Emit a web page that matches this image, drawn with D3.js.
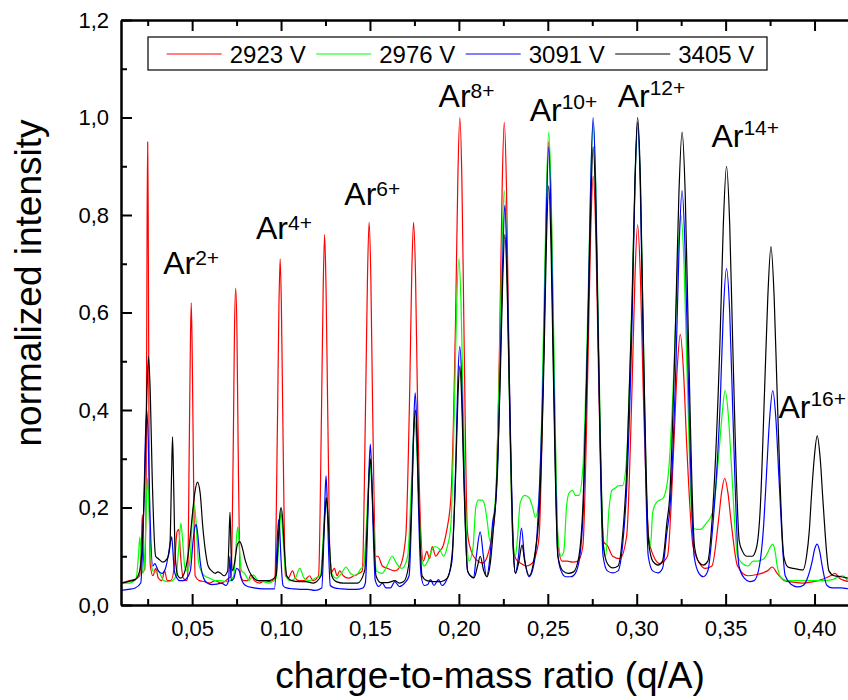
<!DOCTYPE html>
<html>
<head>
<meta charset="utf-8">
<script src="https://cdn.jsdelivr.net/npm/d3@7"></script>
<style>
  body { margin: 0; background: #fff; }
  svg { font-family: "Liberation Sans", Arial, sans-serif; }
</style>
</head>
<body>
<div id="chart"></div>
<script>
// spectra: [q/A, normalized intensity]
const red2923 = [
  [0.010,0.045],[0.015,0.05],[0.019,0.055],
  [0.0205,0.06],[0.0215,0.13],[0.022,0.185],[0.0226,0.1],
  [0.0235,0.07],[0.0242,0.3],[0.0247,0.8],[0.025,0.95],[0.0253,0.8],[0.0258,0.3],[0.0265,0.08],
  [0.028,0.06],[0.0295,0.075],[0.031,0.055],[0.033,0.05],[0.0345,0.07],[0.036,0.05],[0.038,0.05],
  [0.040,0.08],[0.0415,0.15],[0.0425,0.155],[0.0435,0.1],[0.045,0.055],[0.047,0.05],
  [0.0475,0.06],[0.0484,0.33],[0.049,0.53],[0.0495,0.62],[0.05,0.53],[0.0506,0.33],[0.0517,0.06],
  [0.054,0.05],[0.057,0.048],[0.06,0.045],[0.063,0.05],[0.066,0.045],[0.069,0.05],[0.0705,0.055],
  [0.0719,0.06],[0.0732,0.35],[0.0738,0.56],[0.0745,0.65],[0.0752,0.56],[0.0758,0.35],[0.0771,0.06],
  [0.079,0.05],[0.0815,0.05],[0.083,0.062],[0.085,0.05],[0.088,0.045],[0.091,0.05],[0.0935,0.048],[0.0965,0.055],
  [0.098,0.38],[0.0988,0.61],[0.0995,0.71],[0.1002,0.61],[0.101,0.38],[0.1025,0.06],
  [0.104,0.055],[0.1065,0.07],[0.108,0.055],[0.11,0.05],[0.113,0.05],[0.116,0.06],[0.118,0.05],[0.1211,0.06],
  [0.1228,0.41],[0.1237,0.65],[0.1245,0.76],[0.1253,0.65],[0.1262,0.41],[0.1279,0.065],
  [0.130,0.075],[0.1315,0.06],[0.133,0.07],[0.135,0.06],[0.138,0.055],[0.141,0.06],[0.144,0.065],[0.1457,0.07],
  [0.1476,0.43],[0.1486,0.67],[0.1495,0.785],[0.1505,0.67],[0.1514,0.43],[0.1533,0.1],
  [0.1545,0.1],[0.157,0.08],[0.160,0.075],[0.164,0.07],[0.167,0.08],[0.1695,0.12],[0.1703,0.15],
  [0.1724,0.45],[0.1735,0.68],[0.1745,0.785],[0.1756,0.68],[0.1766,0.45],[0.1787,0.14],
  [0.180,0.09],[0.182,0.11],[0.1835,0.095],[0.185,0.12],[0.187,0.1],[0.189,0.11],[0.191,0.12],[0.193,0.15],[0.1955,0.22],
  [0.1982,0.6],[0.1994,0.87],[0.2005,1.0],[0.2017,0.87],[0.2028,0.58],[0.2048,0.15],
  [0.207,0.11],[0.210,0.092],[0.2135,0.086],[0.216,0.1],[0.2185,0.14],[0.2205,0.2],
  [0.223,0.56],[0.2243,0.85],[0.2255,0.99],[0.2268,0.85],[0.228,0.55],[0.2305,0.12],
  [0.232,0.095],[0.235,0.085],[0.238,0.08],[0.241,0.085],[0.243,0.1],[0.2451,0.14],
  [0.2478,0.54],[0.2492,0.82],[0.2505,0.95],[0.2519,0.82],[0.2532,0.53],[0.2559,0.12],
  [0.258,0.09],[0.261,0.09],[0.264,0.088],[0.267,0.09],[0.2697,0.12],
  [0.2726,0.5],[0.2741,0.76],[0.2755,0.88],[0.277,0.76],[0.2784,0.5],[0.2813,0.13],
  [0.2835,0.122],[0.2865,0.1],[0.2905,0.095],[0.2943,0.14],
  [0.2974,0.45],[0.299,0.67],[0.3005,0.78],[0.3021,0.67],[0.3036,0.45],[0.3067,0.14],
  [0.3095,0.1],[0.313,0.085],[0.3173,0.1],
  [0.3209,0.33],[0.3227,0.48],[0.3245,0.555],[0.3263,0.48],[0.3281,0.33],[0.3317,0.12],
  [0.3355,0.085],[0.3385,0.075],[0.3423,0.08],
  [0.3459,0.17],[0.3477,0.23],[0.3495,0.26],[0.3513,0.23],[0.3531,0.17],[0.3567,0.08],
  [0.3625,0.06],[0.367,0.062],[0.371,0.066],[0.3735,0.07],[0.3762,0.078],[0.379,0.065],[0.383,0.05],
  [0.388,0.047],[0.393,0.045],[0.398,0.047],[0.402,0.05],[0.406,0.055],[0.409,0.06],[0.4115,0.065],
  [0.414,0.055],[0.417,0.05],[0.42,0.048],[0.425,0.047]
];

const green2976 = [
  [0.0105,0.045],[0.015,0.045],[0.0185,0.055],[0.0198,0.1],[0.0206,0.14],[0.0214,0.09],[0.0222,0.065],
  [0.0228,0.07],[0.0239,0.16],[0.0244,0.22],[0.025,0.26],[0.0255,0.22],[0.0261,0.16],[0.0272,0.08],
  [0.028,0.07],[0.0295,0.068],[0.031,0.07],[0.0325,0.06],[0.034,0.05],[0.0365,0.048],[0.039,0.05],
  [0.041,0.06],[0.0425,0.12],[0.0437,0.168],[0.0447,0.13],[0.046,0.075],[0.0475,0.07],[0.049,0.1],
  [0.0503,0.19],[0.0512,0.207],[0.0522,0.17],[0.0535,0.09],[0.055,0.07],[0.057,0.06],[0.06,0.055],
  [0.063,0.05],[0.066,0.05],[0.069,0.048],[0.0715,0.05],
  [0.0734,0.06],[0.0745,0.11],[0.075,0.14],[0.0756,0.16],[0.0762,0.14],[0.0767,0.11],[0.0778,0.07],
  [0.0795,0.065],[0.082,0.05],[0.0845,0.062],[0.087,0.05],[0.09,0.048],[0.093,0.045],[0.0972,0.055],
  [0.0986,0.12],[0.0993,0.16],[0.1,0.19],[0.1007,0.16],[0.1014,0.12],[0.1028,0.06],
  [0.105,0.05],[0.108,0.055],[0.1105,0.075],[0.113,0.055],[0.116,0.05],[0.119,0.055],[0.1221,0.06],
  [0.1237,0.14],[0.1245,0.19],[0.1253,0.22],[0.1261,0.19],[0.1269,0.14],[0.1285,0.065],
  [0.131,0.055],[0.134,0.065],[0.1365,0.078],[0.139,0.065],[0.142,0.06],[0.145,0.075],[0.1464,0.08],
  [0.1482,0.18],[0.1491,0.25],[0.15,0.29],[0.1509,0.25],[0.1518,0.18],[0.1536,0.07],
  [0.157,0.065],[0.1595,0.08],[0.1625,0.1],[0.165,0.085],[0.168,0.075],[0.1712,0.1],
  [0.1732,0.24],[0.1742,0.33],[0.1752,0.38],[0.1762,0.33],[0.1772,0.24],[0.1792,0.09],
  [0.1805,0.08],[0.1825,0.09],[0.1845,0.11],[0.1865,0.12],[0.189,0.115],[0.1915,0.1],[0.1935,0.12],[0.1954,0.16],
  [0.1977,0.44],[0.1988,0.62],[0.2,0.71],[0.2012,0.62],[0.2023,0.43],[0.2046,0.12],
  [0.2058,0.09],[0.208,0.12],[0.2095,0.2],[0.211,0.215],[0.213,0.215],[0.2145,0.205],[0.216,0.17],[0.2175,0.13],[0.2195,0.18],
  [0.2212,0.26],[0.223,0.52],[0.2243,0.74],[0.2255,0.85],[0.2268,0.74],[0.228,0.5],[0.2303,0.14],
  [0.2318,0.1],[0.233,0.14],[0.2345,0.21],[0.237,0.225],[0.2395,0.22],[0.2415,0.2],[0.243,0.18],[0.2451,0.22],
  [0.2478,0.6],[0.2492,0.84],[0.2505,0.97],[0.2519,0.84],[0.2532,0.58],[0.2557,0.14],
  [0.2575,0.1],[0.259,0.11],[0.2605,0.2],[0.262,0.23],[0.264,0.235],[0.2655,0.225],[0.2675,0.225],[0.2697,0.28],
  [0.2726,0.62],[0.2741,0.86],[0.2755,0.99],[0.277,0.86],[0.2784,0.58],[0.2812,0.13],
  [0.2825,0.1],[0.2845,0.2],[0.286,0.235],[0.288,0.24],[0.29,0.245],[0.292,0.245],[0.2943,0.3],
  [0.2974,0.64],[0.299,0.86],[0.3005,0.98],[0.3021,0.86],[0.3036,0.58],[0.3065,0.13],
  [0.3077,0.12],[0.309,0.19],[0.311,0.21],[0.313,0.215],[0.315,0.22],[0.3178,0.27],
  [0.3213,0.52],[0.323,0.7],[0.3248,0.8],[0.3266,0.7],[0.3283,0.48],[0.3315,0.16],
  [0.3335,0.155],[0.336,0.155],[0.3385,0.165],[0.3427,0.19],
  [0.3462,0.31],[0.348,0.39],[0.3497,0.44],[0.3515,0.39],[0.3532,0.29],[0.3567,0.1],
  [0.3595,0.085],[0.3625,0.08],[0.3655,0.09],[0.368,0.09],[0.3715,0.095],
  [0.374,0.11],[0.3752,0.12],[0.3765,0.125],[0.3778,0.11],[0.379,0.08],[0.3815,0.055],
  [0.385,0.05],[0.39,0.05],[0.395,0.05],[0.4,0.05],[0.405,0.05],[0.41,0.052],[0.4135,0.058],
  [0.416,0.06],[0.419,0.05],[0.425,0.048]
];

const blue3091 = [
  [0.010,0.03],[0.014,0.032],[0.018,0.035],[0.0211,0.045],
  [0.0228,0.2],[0.0237,0.34],[0.0245,0.4],[0.0253,0.34],[0.0262,0.2],[0.0279,0.08],
  [0.029,0.085],[0.031,0.07],[0.033,0.065],[0.035,0.075],[0.0365,0.1],[0.0378,0.13],[0.0385,0.14],
  [0.0392,0.11],[0.040,0.07],[0.0415,0.055],[0.043,0.05],[0.045,0.05],[0.047,0.055],[0.049,0.07],
  [0.0505,0.13],[0.0515,0.16],[0.0523,0.165],[0.053,0.15],[0.0545,0.09],[0.056,0.06],[0.0585,0.045],
  [0.061,0.042],[0.064,0.043],[0.0665,0.045],[0.069,0.04],[0.0705,0.05],[0.0712,0.1],[0.072,0.05],
  [0.0735,0.055],[0.075,0.075],[0.0765,0.07],[0.078,0.05],[0.08,0.04],[0.085,0.035],[0.09,0.033],[0.0963,0.033],
  [0.0975,0.1],[0.0981,0.15],[0.0987,0.175],[0.0993,0.15],[0.0999,0.1],[0.1011,0.04],
  [0.103,0.035],[0.107,0.033],[0.111,0.032],[0.115,0.032],[0.119,0.03],[0.1229,0.035],
  [0.1241,0.14],[0.1247,0.22],[0.1253,0.265],[0.1259,0.22],[0.1265,0.14],[0.1277,0.04],
  [0.13,0.035],[0.134,0.033],[0.138,0.032],[0.142,0.032],[0.146,0.035],[0.1474,0.045],
  [0.1488,0.18],[0.1495,0.28],[0.1502,0.33],[0.1509,0.28],[0.1516,0.18],[0.153,0.05],
  [0.155,0.038],[0.157,0.045],[0.159,0.035],[0.1615,0.035],[0.164,0.048],[0.1665,0.038],[0.1695,0.045],[0.172,0.06],
  [0.1737,0.23],[0.1746,0.37],[0.1754,0.435],[0.1763,0.37],[0.1771,0.23],[0.1788,0.06],
  [0.1805,0.04],[0.1825,0.042],[0.184,0.052],[0.186,0.04],[0.1885,0.052],[0.1905,0.04],[0.1935,0.055],[0.1961,0.09],
  [0.1983,0.3],[0.1994,0.46],[0.2005,0.53],[0.2016,0.46],[0.2027,0.29],[0.2049,0.07],
  [0.2065,0.06],[0.2082,0.055],[0.2098,0.1],[0.212,0.15],[0.2138,0.1],[0.2155,0.058],[0.2175,0.1],[0.219,0.17],[0.2205,0.2],
  [0.222,0.3],[0.2233,0.5],[0.2246,0.7],[0.2258,0.82],[0.2271,0.7],[0.2283,0.48],[0.2308,0.1],
  [0.2318,0.065],[0.2335,0.1],[0.2352,0.158],[0.2368,0.1],[0.2395,0.058],[0.2425,0.09],[0.2445,0.18],
  [0.2479,0.55],[0.2492,0.8],[0.2505,0.94],[0.2518,0.8],[0.2531,0.52],[0.2557,0.1],
  [0.2575,0.07],[0.26,0.058],[0.263,0.058],[0.2655,0.065],[0.268,0.1],[0.27,0.2],
  [0.2727,0.6],[0.2741,0.86],[0.2755,1.0],[0.2769,0.86],[0.2783,0.56],[0.2811,0.1],
  [0.2835,0.07],[0.2865,0.066],[0.2895,0.07],[0.292,0.12],[0.2945,0.25],
  [0.2975,0.6],[0.299,0.86],[0.3005,0.99],[0.302,0.86],[0.3035,0.56],[0.3065,0.1],
  [0.309,0.07],[0.312,0.066],[0.3145,0.075],[0.317,0.15],[0.3187,0.2],
  [0.3221,0.5],[0.3238,0.73],[0.3255,0.85],[0.3272,0.73],[0.3289,0.48],[0.3323,0.1],
  [0.335,0.065],[0.3375,0.058],[0.34,0.07],[0.3425,0.15],
  [0.347,0.42],[0.3487,0.6],[0.3505,0.69],[0.3523,0.6],[0.354,0.4],[0.3575,0.08],
  [0.3605,0.055],[0.3635,0.048],[0.366,0.05],[0.369,0.08],[0.3715,0.17],
  [0.373,0.27],[0.3747,0.38],[0.3765,0.44],[0.3783,0.38],[0.38,0.26],[0.3835,0.06],
  [0.387,0.042],[0.3905,0.037],[0.3935,0.04],[0.396,0.055],
  [0.3987,0.09],[0.4001,0.115],[0.4015,0.125],[0.4029,0.11],[0.4043,0.08],[0.407,0.04],
  [0.41,0.035],[0.415,0.035],[0.42,0.033],[0.425,0.033]
];

const black3405 = [
  [0.010,0.045],[0.014,0.048],[0.018,0.052],[0.0205,0.07],
  [0.0215,0.1],[0.0235,0.28],[0.0245,0.43],[0.0255,0.51],[0.0265,0.43],[0.0275,0.27],[0.0295,0.1],
  [0.031,0.095],[0.0335,0.088],[0.036,0.095],[0.0375,0.12],[0.0385,0.28],[0.039,0.345],[0.0396,0.25],
  [0.0405,0.1],[0.042,0.06],[0.0435,0.055],[0.046,0.07],[0.048,0.11],[0.05,0.18],[0.0515,0.23],
  [0.053,0.252],[0.0545,0.23],[0.056,0.16],[0.0575,0.11],[0.059,0.08],[0.061,0.07],[0.063,0.065],
  [0.0645,0.068],[0.066,0.065],[0.068,0.06],[0.07,0.07],[0.0706,0.12],[0.0713,0.19],[0.072,0.1],
  [0.0728,0.07],[0.074,0.09],[0.0755,0.125],[0.0768,0.13],[0.078,0.12],[0.08,0.09],[0.082,0.07],
  [0.084,0.058],[0.087,0.05],[0.09,0.05],[0.093,0.05],[0.0972,0.06],
  [0.0984,0.13],[0.0992,0.18],[0.1,0.2],[0.1008,0.18],[0.1016,0.13],[0.1032,0.06],
  [0.106,0.05],[0.11,0.048],[0.114,0.048],[0.118,0.045],[0.1225,0.06],
  [0.124,0.14],[0.1248,0.19],[0.1255,0.22],[0.1263,0.19],[0.127,0.14],[0.1285,0.06],
  [0.131,0.048],[0.135,0.045],[0.139,0.045],[0.143,0.045],[0.147,0.07],
  [0.1486,0.18],[0.1494,0.26],[0.1502,0.3],[0.151,0.26],[0.1518,0.18],[0.1534,0.06],
  [0.156,0.046],[0.16,0.046],[0.164,0.05],[0.1665,0.045],[0.169,0.048],[0.1717,0.08],
  [0.1736,0.23],[0.1745,0.34],[0.1755,0.4],[0.1765,0.34],[0.1774,0.22],[0.1793,0.06],
  [0.182,0.05],[0.186,0.048],[0.19,0.048],[0.1935,0.055],[0.1961,0.1],
  [0.1983,0.28],[0.1994,0.42],[0.2005,0.49],[0.2016,0.42],[0.2027,0.27],[0.2049,0.07],
  [0.2065,0.06],[0.2085,0.056],[0.2105,0.08],[0.212,0.1],[0.214,0.07],[0.2158,0.058],[0.2178,0.09],[0.2195,0.16],[0.2208,0.22],
  [0.2233,0.47],[0.2246,0.66],[0.2258,0.76],[0.2271,0.66],[0.2283,0.45],[0.2308,0.1],
  [0.2318,0.065],[0.2338,0.09],[0.2355,0.123],[0.237,0.09],[0.2395,0.06],[0.2425,0.1],[0.2453,0.2],
  [0.2479,0.51],[0.2492,0.74],[0.2505,0.86],[0.2518,0.74],[0.2531,0.48],[0.2557,0.1],
  [0.2585,0.07],[0.2615,0.065],[0.2645,0.068],[0.2675,0.1],[0.2697,0.2],
  [0.2726,0.57],[0.2741,0.81],[0.2755,0.94],[0.277,0.81],[0.2784,0.54],[0.2813,0.12],
  [0.2835,0.085],[0.2865,0.076],[0.2895,0.08],[0.292,0.14],[0.2943,0.27],
  [0.2974,0.62],[0.299,0.87],[0.3005,1.0],[0.3021,0.87],[0.3036,0.57],[0.3067,0.13],
  [0.309,0.09],[0.312,0.082],[0.3145,0.09],[0.317,0.17],[0.3185,0.22],
  [0.322,0.6],[0.3237,0.84],[0.3255,0.97],[0.3273,0.84],[0.329,0.56],[0.3325,0.12],
  [0.335,0.088],[0.3375,0.082],[0.34,0.09],[0.3425,0.18],
  [0.3469,0.55],[0.3487,0.78],[0.3505,0.9],[0.3523,0.78],[0.3541,0.52],[0.3577,0.13],
  [0.3595,0.11],[0.362,0.1],[0.365,0.1],[0.3675,0.12],[0.3695,0.2],
  [0.3719,0.44],[0.3737,0.63],[0.3755,0.735],[0.3773,0.63],[0.3791,0.42],[0.3827,0.1],
  [0.385,0.078],[0.388,0.075],[0.391,0.073],[0.3935,0.072],[0.3955,0.1],[0.397,0.15],
  [0.3982,0.22],[0.3998,0.3],[0.4015,0.347],[0.4032,0.3],[0.4048,0.21],[0.4081,0.07],
  [0.411,0.06],[0.415,0.058],[0.42,0.055],[0.425,0.055]
];

const seriesNames = ["2923 V", "2976 V", "3091 V", "3405 V"];
const seriesColors = ["#ff0000", "#00ff00", "#0000ff", "#000000"];
const seriesData = [red2923, green2976, blue3091, black3405];

const xMajor = [0.05, 0.10, 0.15, 0.20, 0.25, 0.30, 0.35, 0.40];
const xMinor = [0.025, 0.075, 0.125, 0.175, 0.225, 0.275, 0.325, 0.375, 0.425];
const yMajor = [0.0, 0.2, 0.4, 0.6, 0.8, 1.0, 1.2];
const yMinor = [0.1, 0.3, 0.5, 0.7, 0.9, 1.1];

// ion labels: charge state, q/A where the label starts, intensity of its baseline
const ionLabels = [
  { charge: "2+", q: 0.0337, y: 0.68 },
  { charge: "4+", q: 0.0859, y: 0.75 },
  { charge: "6+", q: 0.1356, y: 0.82 },
  { charge: "8+", q: 0.1886, y: 1.022 },
  { charge: "10+", q: 0.2398, y: 0.992 },
  { charge: "12+", q: 0.2893, y: 1.022 },
  { charge: "14+", q: 0.342, y: 0.94 },
  { charge: "16+", q: 0.3797, y: 0.383 }
];

const width = 848, height = 700;
const margin = { top: 20, left: 121 };
const plotRight = 859, plotBottom = 605;

const svg = d3.select("#chart").append("svg")
  .attr("width", width)
  .attr("height", height);

const xScale = d3.scaleLinear().domain([0.01, 0.425]).range([margin.left, plotRight]);
const yScale = d3.scaleLinear().domain([0, 1.2]).range([plotBottom, margin.top]);

const comma = d => d3.format(".2f")(d).replace(".", ",");
const commaY = d => d3.format(".1f")(d).replace(".", ",");

svg.append("clipPath").attr("id", "plotClip")
  .append("rect")
  .attr("x", margin.left).attr("y", margin.top)
  .attr("width", plotRight - margin.left).attr("height", plotBottom - margin.top);

// spectra
const line = d3.line()
  .x(d => xScale(d[0]))
  .y(d => yScale(d[1]))
  .curve(d3.curveMonotoneX);

svg.append("g").attr("clip-path", "url(#plotClip)")
  .selectAll("path")
  .data(seriesData)
  .join("path")
  .attr("fill", "none")
  .attr("stroke", (d, i) => seriesColors[i])
  .attr("stroke-width", 1.2)
  .attr("stroke-linejoin", "round")
  .attr("d", line);

// axes
const styleAxis = g => {
  g.selectAll("path.domain").attr("stroke-width", 2);
  g.selectAll(".tick line").attr("stroke-width", 2);
  g.selectAll(".tick text").attr("font-size", "22px").attr("fill", "#000");
};

svg.append("g")
  .attr("transform", `translate(0,${plotBottom})`)
  .call(d3.axisBottom(xScale).tickValues(xMajor).tickFormat(comma).tickSize(-11).tickSizeOuter(0).tickPadding(15))
  .call(styleAxis);
svg.append("g")
  .attr("transform", `translate(0,${plotBottom})`)
  .call(d3.axisBottom(xScale).tickValues(xMinor).tickFormat("").tickSize(-6).tickSizeOuter(0))
  .call(styleAxis);

svg.append("g")
  .attr("transform", `translate(0,${margin.top})`)
  .call(d3.axisTop(xScale).tickValues(xMajor).tickFormat("").tickSize(-11).tickSizeOuter(0))
  .call(styleAxis);
svg.append("g")
  .attr("transform", `translate(0,${margin.top})`)
  .call(d3.axisTop(xScale).tickValues(xMinor).tickFormat("").tickSize(-6).tickSizeOuter(0))
  .call(styleAxis);

svg.append("g")
  .attr("transform", `translate(${margin.left},0)`)
  .call(d3.axisLeft(yScale).tickValues(yMajor).tickFormat(commaY).tickSize(-11).tickSizeOuter(0).tickPadding(12))
  .call(styleAxis);
svg.append("g")
  .attr("transform", `translate(${margin.left},0)`)
  .call(d3.axisLeft(yScale).tickValues(yMinor).tickFormat("").tickSize(-6).tickSizeOuter(0))
  .call(styleAxis);

// axis titles
svg.append("text")
  .attr("x", 490).attr("y", 688)
  .attr("text-anchor", "middle")
  .attr("font-size", "37px")
  .text("charge-to-mass ratio (q/A)");

svg.append("text")
  .attr("transform", "translate(41,283) rotate(-90)")
  .attr("text-anchor", "middle")
  .attr("font-size", "37px")
  .text("normalized intensity");

// ion labels
const ions = svg.append("g").selectAll("text")
  .data(ionLabels)
  .join("text")
  .attr("x", d => xScale(d.q))
  .attr("y", d => yScale(d.y))
  .attr("font-size", "32px");
ions.append("tspan").text("Ar");
ions.append("tspan")
  .attr("font-size", "21px")
  .attr("dy", d => d.charge.length > 2 ? -12 : -9)
  .text(d => d.charge);

// legend
const legend = svg.append("g");
legend.append("rect")
  .attr("x", 148).attr("y", 37)
  .attr("width", 619).attr("height", 33)
  .attr("fill", "#fff")
  .attr("stroke", "#000")
  .attr("stroke-width", 1.2);

const item = legend.selectAll("g.item")
  .data(seriesNames)
  .join("g")
  .attr("class", "item")
  .attr("transform", (d, i) => `translate(${166.7 + i * 149.5},0)`);
item.append("line")
  .attr("x1", 0).attr("x2", 55)
  .attr("y1", 54).attr("y2", 54)
  .attr("stroke", (d, i) => seriesColors[i])
  .attr("stroke-width", 1.2);
item.append("text")
  .attr("x", 63).attr("y", 63)
  .attr("font-size", "24px")
  .text(d => d);
</script>
</body>
</html>
